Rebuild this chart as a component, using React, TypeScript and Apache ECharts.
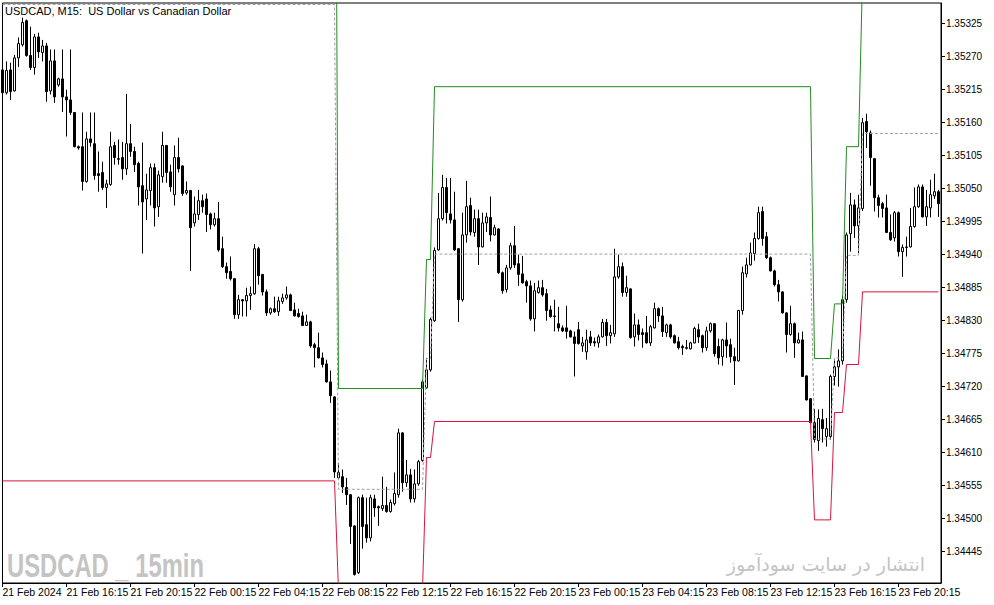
import React, { useEffect, useRef } from "react";
import * as echarts from "echarts";

const xTickLabels = [
  "21 Feb 2024", "21 Feb 16:15", "21 Feb 20:15", "22 Feb 00:15", "22 Feb 04:15",
  "22 Feb 08:15", "22 Feb 12:15", "22 Feb 16:15", "22 Feb 20:15", "23 Feb 00:15",
  "23 Feb 04:15", "23 Feb 08:15", "23 Feb 12:15", "23 Feb 16:15", "23 Feb 20:15",
];
const xTickBars = [0, 16, 32, 48, 64, 80, 96, 112, 128, 144, 160, 176, 192, 208, 224];

const yTicks = [
  1.34445, 1.345, 1.34555, 1.3461, 1.34665, 1.3472, 1.34775, 1.3483, 1.34885,
  1.3494, 1.34995, 1.3505, 1.35105, 1.3516, 1.35215, 1.3527, 1.35325,
];

const opens = [
  1.35248, 1.35210, 1.35248, 1.35213, 1.35268, 1.35290, 1.35330, 1.35272, 1.35252, 1.35303,
  1.35277, 1.35288, 1.35213, 1.35263, 1.35223, 1.35233, 1.35203, 1.35198, 1.35177, 1.35120,
  1.35120, 1.35062, 1.35133, 1.35125, 1.35075, 1.35077, 1.35052, 1.35057, 1.35122, 1.35100,
  1.35102, 1.35083, 1.35125, 1.35112, 1.35092, 1.35055, 1.35033, 1.35047, 1.35085, 1.35020,
  1.35070, 1.35122, 1.35078, 1.35040, 1.35102, 1.35088, 1.35043, 1.35047, 1.34993, 1.35007,
  1.35030, 1.35033, 1.35008, 1.34990, 1.35000, 1.34950, 1.34920, 1.34912, 1.34900, 1.34840,
  1.34865, 1.34863, 1.34872, 1.34875, 1.34950, 1.34907, 1.34878, 1.34843, 1.34850, 1.34845,
  1.34862, 1.34868, 1.34873, 1.34848, 1.34842, 1.34838, 1.34822, 1.34828, 1.34790, 1.34785,
  1.34768, 1.34758, 1.34728, 1.34703, 1.34568, 1.34570, 1.34552, 1.34540, 1.34488, 1.34410,
  1.34535, 1.34490, 1.34468, 1.34533, 1.34520, 1.34517, 1.34522, 1.34512, 1.34525, 1.34540,
  1.34643, 1.34560, 1.34573, 1.34533, 1.34558, 1.34597, 1.34718, 1.34748, 1.34830, 1.34948,
  1.35000, 1.35052, 1.35008, 1.34998, 1.34950, 1.34865, 1.34973, 1.35022, 1.34977, 1.35000,
  1.34953, 1.34993, 1.35002, 1.34973, 1.34983, 1.34910, 1.34882, 1.34918, 1.34955, 1.34925,
  1.34908, 1.34895, 1.34888, 1.34833, 1.34877, 1.34885, 1.34875, 1.34848, 1.34838, 1.34825,
  1.34818, 1.34818, 1.34813, 1.34803, 1.34815, 1.34788, 1.34778, 1.34803, 1.34795, 1.34793,
  1.34803, 1.34827, 1.34805, 1.34808, 1.34903, 1.34920, 1.34877, 1.34883, 1.34803, 1.34823,
  1.34810, 1.34810, 1.34793, 1.34818, 1.34850, 1.34838, 1.34810, 1.34823, 1.34805, 1.34795,
  1.34787, 1.34785, 1.34783, 1.34793, 1.34815, 1.34805, 1.34785, 1.34813, 1.34825, 1.34787,
  1.34770, 1.34798, 1.34790, 1.34770, 1.34763, 1.34847, 1.34908, 1.34923, 1.34942, 1.34967,
  1.35012, 1.34970, 1.34935, 1.34913, 1.34890, 1.34878, 1.34843, 1.34807, 1.34825, 1.34793,
  1.34798, 1.34738, 1.34700, 1.34660, 1.34630, 1.34665, 1.34637, 1.34637, 1.34737, 1.34753,
  1.34763, 1.34865, 1.34975, 1.35023, 1.34988, 1.35017, 1.35162, 1.35143, 1.35100, 1.35035,
  1.35025, 1.35018, 1.34977, 1.34968, 1.35010, 1.34945, 1.34952, 1.34953, 1.34987, 1.35020,
  1.35053, 1.35003, 1.35018, 1.35038, 1.35045,
];

const closes = [
  1.35210, 1.35247, 1.35212, 1.35268, 1.35292, 1.35327, 1.35272, 1.35252, 1.35303, 1.35278,
  1.35288, 1.35212, 1.35263, 1.35203, 1.35233, 1.35203, 1.35198, 1.35177, 1.35120, 1.35118,
  1.35062, 1.35133, 1.35127, 1.35072, 1.35072, 1.35052, 1.35058, 1.35120, 1.35102, 1.35099,
  1.35083, 1.35125, 1.35112, 1.35090, 1.35053, 1.35028, 1.35048, 1.35085, 1.35018, 1.35073,
  1.35122, 1.35077, 1.35053, 1.35102, 1.35083, 1.35042, 1.35047, 1.34985, 1.35008, 1.35030,
  1.35020, 1.35007, 1.34990, 1.35000, 1.34948, 1.34920, 1.34910, 1.34900, 1.34840, 1.34865,
  1.34863, 1.34872, 1.34875, 1.34950, 1.34905, 1.34878, 1.34843, 1.34850, 1.34845, 1.34863,
  1.34868, 1.34873, 1.34847, 1.34838, 1.34837, 1.34822, 1.34828, 1.34788, 1.34785, 1.34768,
  1.34757, 1.34728, 1.34705, 1.34578, 1.34577, 1.34553, 1.34540, 1.34487, 1.34407, 1.34535,
  1.34487, 1.34468, 1.34535, 1.34518, 1.34518, 1.34522, 1.34512, 1.34527, 1.34542, 1.34643,
  1.34560, 1.34573, 1.34533, 1.34558, 1.34595, 1.34728, 1.34748, 1.34832, 1.34947, 1.35000,
  1.35052, 1.35010, 1.34998, 1.34948, 1.34865, 1.34973, 1.35020, 1.34978, 1.35000, 1.34953,
  1.34993, 1.35003, 1.34973, 1.34985, 1.34910, 1.34880, 1.34918, 1.34955, 1.34923, 1.34907,
  1.34893, 1.34888, 1.34833, 1.34880, 1.34885, 1.34873, 1.34847, 1.34837, 1.34837, 1.34818,
  1.34813, 1.34812, 1.34803, 1.34792, 1.34792, 1.34793, 1.34798, 1.34793, 1.34793, 1.34803,
  1.34827, 1.34805, 1.34810, 1.34903, 1.34920, 1.34877, 1.34885, 1.34802, 1.34823, 1.34807,
  1.34807, 1.34793, 1.34820, 1.34850, 1.34838, 1.34812, 1.34823, 1.34803, 1.34793, 1.34785,
  1.34785, 1.34784, 1.34793, 1.34817, 1.34803, 1.34785, 1.34813, 1.34825, 1.34775, 1.34768,
  1.34798, 1.34788, 1.34770, 1.34763, 1.34847, 1.34910, 1.34923, 1.34943, 1.34967, 1.35010,
  1.34967, 1.34935, 1.34913, 1.34890, 1.34878, 1.34843, 1.34807, 1.34825, 1.34793, 1.34798,
  1.34737, 1.34698, 1.34660, 1.34632, 1.34667, 1.34650, 1.34650, 1.34737, 1.34753, 1.34763,
  1.34865, 1.34973, 1.35023, 1.34988, 1.35018, 1.35160, 1.35145, 1.35102, 1.35035, 1.35022,
  1.35017, 1.34977, 1.34965, 1.35010, 1.34945, 1.34952, 1.34953, 1.34987, 1.35020, 1.35053,
  1.35003, 1.35020, 1.35040, 1.35045, 1.35025,
];

const lows = [
  1.35207, 1.35207, 1.35198, 1.35212, 1.35253, 1.35287, 1.35270, 1.35248, 1.35240, 1.35268,
  1.35262, 1.35195, 1.35207, 1.35193, 1.35220, 1.35178, 1.35137, 1.35173, 1.35119, 1.35115,
  1.35047, 1.35060, 1.35120, 1.35065, 1.35045, 1.35048, 1.35018, 1.35055, 1.35090, 1.35090,
  1.35065, 1.35073, 1.35103, 1.35078, 1.35022, 1.34942, 1.34998, 1.35022, 1.34987, 1.35003,
  1.35060, 1.35060, 1.35045, 1.35022, 1.35077, 1.35038, 1.35040, 1.34913, 1.34987, 1.34998,
  1.35010, 1.34978, 1.34982, 1.34987, 1.34945, 1.34918, 1.34900, 1.34897, 1.34833, 1.34833,
  1.34837, 1.34837, 1.34848, 1.34873, 1.34890, 1.34872, 1.34838, 1.34840, 1.34843, 1.34838,
  1.34858, 1.34865, 1.34846, 1.34837, 1.34835, 1.34821, 1.34821, 1.34785, 1.34752, 1.34767,
  1.34752, 1.34727, 1.34693, 1.34568, 1.34565, 1.34543, 1.34523, 1.34458, 1.34405, 1.34408,
  1.34450, 1.34460, 1.34462, 1.34503, 1.34488, 1.34513, 1.34510, 1.34510, 1.34522, 1.34535,
  1.34545, 1.34553, 1.34527, 1.34527, 1.34555, 1.34595, 1.34717, 1.34745, 1.34828, 1.34947,
  1.34997, 1.34992, 1.34992, 1.34946, 1.34828, 1.34862, 1.34960, 1.34972, 1.34970, 1.34923,
  1.34952, 1.34978, 1.34962, 1.34972, 1.34908, 1.34875, 1.34877, 1.34915, 1.34918, 1.34888,
  1.34892, 1.34860, 1.34830, 1.34812, 1.34875, 1.34870, 1.34830, 1.34835, 1.34812, 1.34812,
  1.34811, 1.34800, 1.34802, 1.34737, 1.34790, 1.34778, 1.34765, 1.34788, 1.34787, 1.34785,
  1.34802, 1.34788, 1.34792, 1.34803, 1.34900, 1.34870, 1.34870, 1.34800, 1.34787, 1.34797,
  1.34785, 1.34792, 1.34788, 1.34817, 1.34828, 1.34803, 1.34803, 1.34800, 1.34792, 1.34782,
  1.34773, 1.34782, 1.34782, 1.34792, 1.34793, 1.34777, 1.34780, 1.34810, 1.34770, 1.34757,
  1.34755, 1.34768, 1.34760, 1.34723, 1.34762, 1.34840, 1.34902, 1.34922, 1.34930, 1.34965,
  1.34955, 1.34933, 1.34912, 1.34887, 1.34862, 1.34842, 1.34777, 1.34805, 1.34768, 1.34792,
  1.34736, 1.34697, 1.34659, 1.34627, 1.34613, 1.34627, 1.34620, 1.34632, 1.34722, 1.34720,
  1.34757, 1.34860, 1.34945, 1.34968, 1.34943, 1.35013, 1.35118, 1.35055, 1.35012, 1.35002,
  1.35002, 1.34976, 1.34963, 1.34962, 1.34937, 1.34903, 1.34937, 1.34952, 1.34985, 1.35018,
  1.35002, 1.34988, 1.35002, 1.35033, 1.35003,
];

const highs = [
  1.35252, 1.35262, 1.35260, 1.35273, 1.35302, 1.35335, 1.35332, 1.35320, 1.35308, 1.35310,
  1.35298, 1.35293, 1.35282, 1.35282, 1.35235, 1.35282, 1.35215, 1.35282, 1.35177, 1.35122,
  1.35177, 1.35145, 1.35177, 1.35177, 1.35112, 1.35095, 1.35065, 1.35145, 1.35128, 1.35132,
  1.35128, 1.35208, 1.35158, 1.35120, 1.35095, 1.35127, 1.35075, 1.35092, 1.35092, 1.35080,
  1.35145, 1.35123, 1.35090, 1.35122, 1.35135, 1.35089, 1.35062, 1.35048, 1.35037, 1.35048,
  1.35040, 1.35042, 1.35010, 1.35010, 1.35028, 1.34970, 1.34927, 1.34937, 1.34901, 1.34873,
  1.34866, 1.34885, 1.34887, 1.34958, 1.34953, 1.34908, 1.34882, 1.34852, 1.34870, 1.34870,
  1.34875, 1.34887, 1.34875, 1.34860, 1.34850, 1.34845, 1.34840, 1.34830, 1.34793, 1.34810,
  1.34777, 1.34765, 1.34747, 1.34704, 1.34593, 1.34582, 1.34568, 1.34541, 1.34489, 1.34537,
  1.34540, 1.34535, 1.34540, 1.34540, 1.34522, 1.34570, 1.34553, 1.34532, 1.34577, 1.34650,
  1.34644, 1.34598, 1.34583, 1.34582, 1.34598, 1.34732, 1.34768, 1.34835, 1.34952, 1.35043,
  1.35073, 1.35068, 1.35068, 1.35045, 1.34951, 1.35010, 1.35063, 1.35035, 1.35015, 1.35015,
  1.35010, 1.35010, 1.35037, 1.34990, 1.34984, 1.34912, 1.34923, 1.34960, 1.34988, 1.34940,
  1.34938, 1.34898, 1.34897, 1.34893, 1.34897, 1.34898, 1.34883, 1.34855, 1.34865, 1.34853,
  1.34822, 1.34855, 1.34815, 1.34812, 1.34828, 1.34803, 1.34815, 1.34813, 1.34802, 1.34807,
  1.34833, 1.34833, 1.34823, 1.34950, 1.34940, 1.34927, 1.34905, 1.34884, 1.34842, 1.34832,
  1.34817, 1.34838, 1.34823, 1.34860, 1.34852, 1.34853, 1.34825, 1.34825, 1.34807, 1.34803,
  1.34790, 1.34798, 1.34795, 1.34820, 1.34825, 1.34807, 1.34820, 1.34827, 1.34826, 1.34800,
  1.34800, 1.34827, 1.34800, 1.34785, 1.34848, 1.34920, 1.34935, 1.34960, 1.34977, 1.35020,
  1.35020, 1.34978, 1.34937, 1.34915, 1.34898, 1.34879, 1.34844, 1.34855, 1.34827, 1.34810,
  1.34812, 1.34739, 1.34701, 1.34683, 1.34682, 1.34683, 1.34668, 1.34740, 1.34767, 1.34782,
  1.34872, 1.34977, 1.35043, 1.35032, 1.35040, 1.35168, 1.35175, 1.35147, 1.35101, 1.35040,
  1.35028, 1.35040, 1.35007, 1.35013, 1.35012, 1.34957, 1.34970, 1.35018, 1.35052, 1.35057,
  1.35057, 1.35048, 1.35065, 1.35075, 1.35048,
];

// channel indicator: [bar index, price] vertices
const upperLine = [
  [0, 1.3615], [83, 1.3615], [84, 1.34717], [105, 1.34717], [106, 1.34932], [107, 1.34932],
  [108, 1.3522], [202, 1.3522], [203, 1.34767], [207, 1.34767], [208, 1.34858], [210, 1.34858],
  [211, 1.3512], [214, 1.3512], [215, 1.35405], [234, 1.35405],
];
const lowerLine = [
  [0, 1.34563], [83, 1.34563], [84, 1.3438], [105, 1.3438], [106, 1.34602], [107, 1.34602],
  [108, 1.34662], [202, 1.34662], [203, 1.34498], [207, 1.34498], [208, 1.34677], [210, 1.34677],
  [211, 1.34757], [214, 1.34757], [215, 1.34878], [234, 1.34878],
];
const middleLine = [
  [0, 1.35357], [83, 1.35357], [84, 1.34549], [105, 1.34549], [106, 1.34767], [107, 1.34767],
  [108, 1.34941], [202, 1.34941], [203, 1.34633], [207, 1.34633], [208, 1.34768], [210, 1.34768],
  [211, 1.34939], [214, 1.34939], [215, 1.35142], [234, 1.35142],
];

const titleText = "USDCAD, M15:  US Dollar vs Canadian Dollar";
const watermarkLeft = "USDCAD _ 15min";
const watermarkRight = "انتشار در سایت سودآموز";

export default function App() {
  const ref = useRef<HTMLDivElement>(null);
  useEffect(() => {
    if (!ref.current) return;
    const chart = echarts.init(ref.current, null, { renderer: "svg" });
    const candleData = opens.map((o, i) => [i, o, closes[i], lows[i], highs[i]]);
    const font = '"Liberation Sans", Arial, sans-serif';
    chart.setOption({
      animation: false,
      backgroundColor: "#ffffff",
      grid: {
        left: 2.5,
        top: 3,
        width: 938.5,
        height: 580,
        show: true,
        borderColor: "#000000",
        borderWidth: 1,
        backgroundColor: "transparent",
        containLabel: false,
        outerBoundsMode: "none",
      },
      xAxis: {
        type: "value",
        min: 0,
        max: 234.625,
        splitLine: { show: false },
        axisLine: { show: true, onZero: false, lineStyle: { color: "#000", width: 1 } },
        axisTick: { show: true, length: 4, inside: false, customValues: xTickBars, lineStyle: { color: "#000" } },
        axisLabel: {
          show: true,
          customValues: xTickBars,
          formatter: (v: number) => xTickLabels[Math.round(v / 16)] ?? "",
          align: "left",
          margin: 3,
          color: "#000",
          fontFamily: font,
          fontSize: 10.5,
        },
      },
      yAxis: {
        type: "value",
        position: "right",
        min: 1.343928,
        max: 1.353595,
        splitLine: { show: false },
        axisLine: { show: true, onZero: false, lineStyle: { color: "#000", width: 1 } },
        axisTick: { show: true, length: 4, inside: false, customValues: yTicks, lineStyle: { color: "#000" } },
        axisLabel: {
          show: true,
          customValues: yTicks,
          formatter: (v: number) => v.toFixed(5),
          margin: 5,
          color: "#000",
          fontFamily: font,
          fontSize: 10,
        },
      },
      graphic: [
        {
          type: "text",
          x: 5,
          y: 11,
          silent: true,
          style: { text: titleText, font: `11px ${font}`, fill: "#000", verticalAlign: "middle", align: "left" },
        },
        {
          type: "text",
          x: 7,
          y: 565,
          scaleX: 0.7,
          silent: true,
          style: {
            text: watermarkLeft,
            font: 'bold 34px "Liberation Sans", sans-serif',
            fill: "#c4c4c4",
            verticalAlign: "middle",
            align: "left",
          },
        },
        {
          type: "text",
          x: 925,
          y: 564,
          silent: true,
          style: {
            text: watermarkRight,
            font: '19px "DejaVu Sans", sans-serif',
            fill: "#c4c4c4",
            verticalAlign: "middle",
            align: "right",
          },
        },
      ],
      series: [
        {
          type: "candlestick",
          data: candleData,
          encode: { x: 0, y: [1, 2, 3, 4] },
          barWidth: 2,
          clip: true,
          itemStyle: {
            color: "#ffffff",
            color0: "#000000",
            borderColor: "#000000",
            borderColor0: "#000000",
            borderWidth: 1,
          },
        },
        {
          type: "line",
          data: middleLine,
          symbol: "none",
          clip: true,
          lineStyle: { color: "#a0a0a0", width: 1, type: [3, 2] },
        },
        {
          type: "line",
          data: upperLine,
          symbol: "none",
          clip: true,
          lineStyle: { color: "#228b22", width: 1 },
        },
        {
          type: "line",
          data: lowerLine,
          symbol: "none",
          clip: true,
          lineStyle: { color: "#dc143c", width: 1 },
        },
      ],
    });
    return () => chart.dispose();
  }, []);
  return (
    <div
      ref={ref}
      style={{ position: "fixed", left: 0, top: 0, width: 994, height: 605, background: "#ffffff" }}
    />
  );
}
